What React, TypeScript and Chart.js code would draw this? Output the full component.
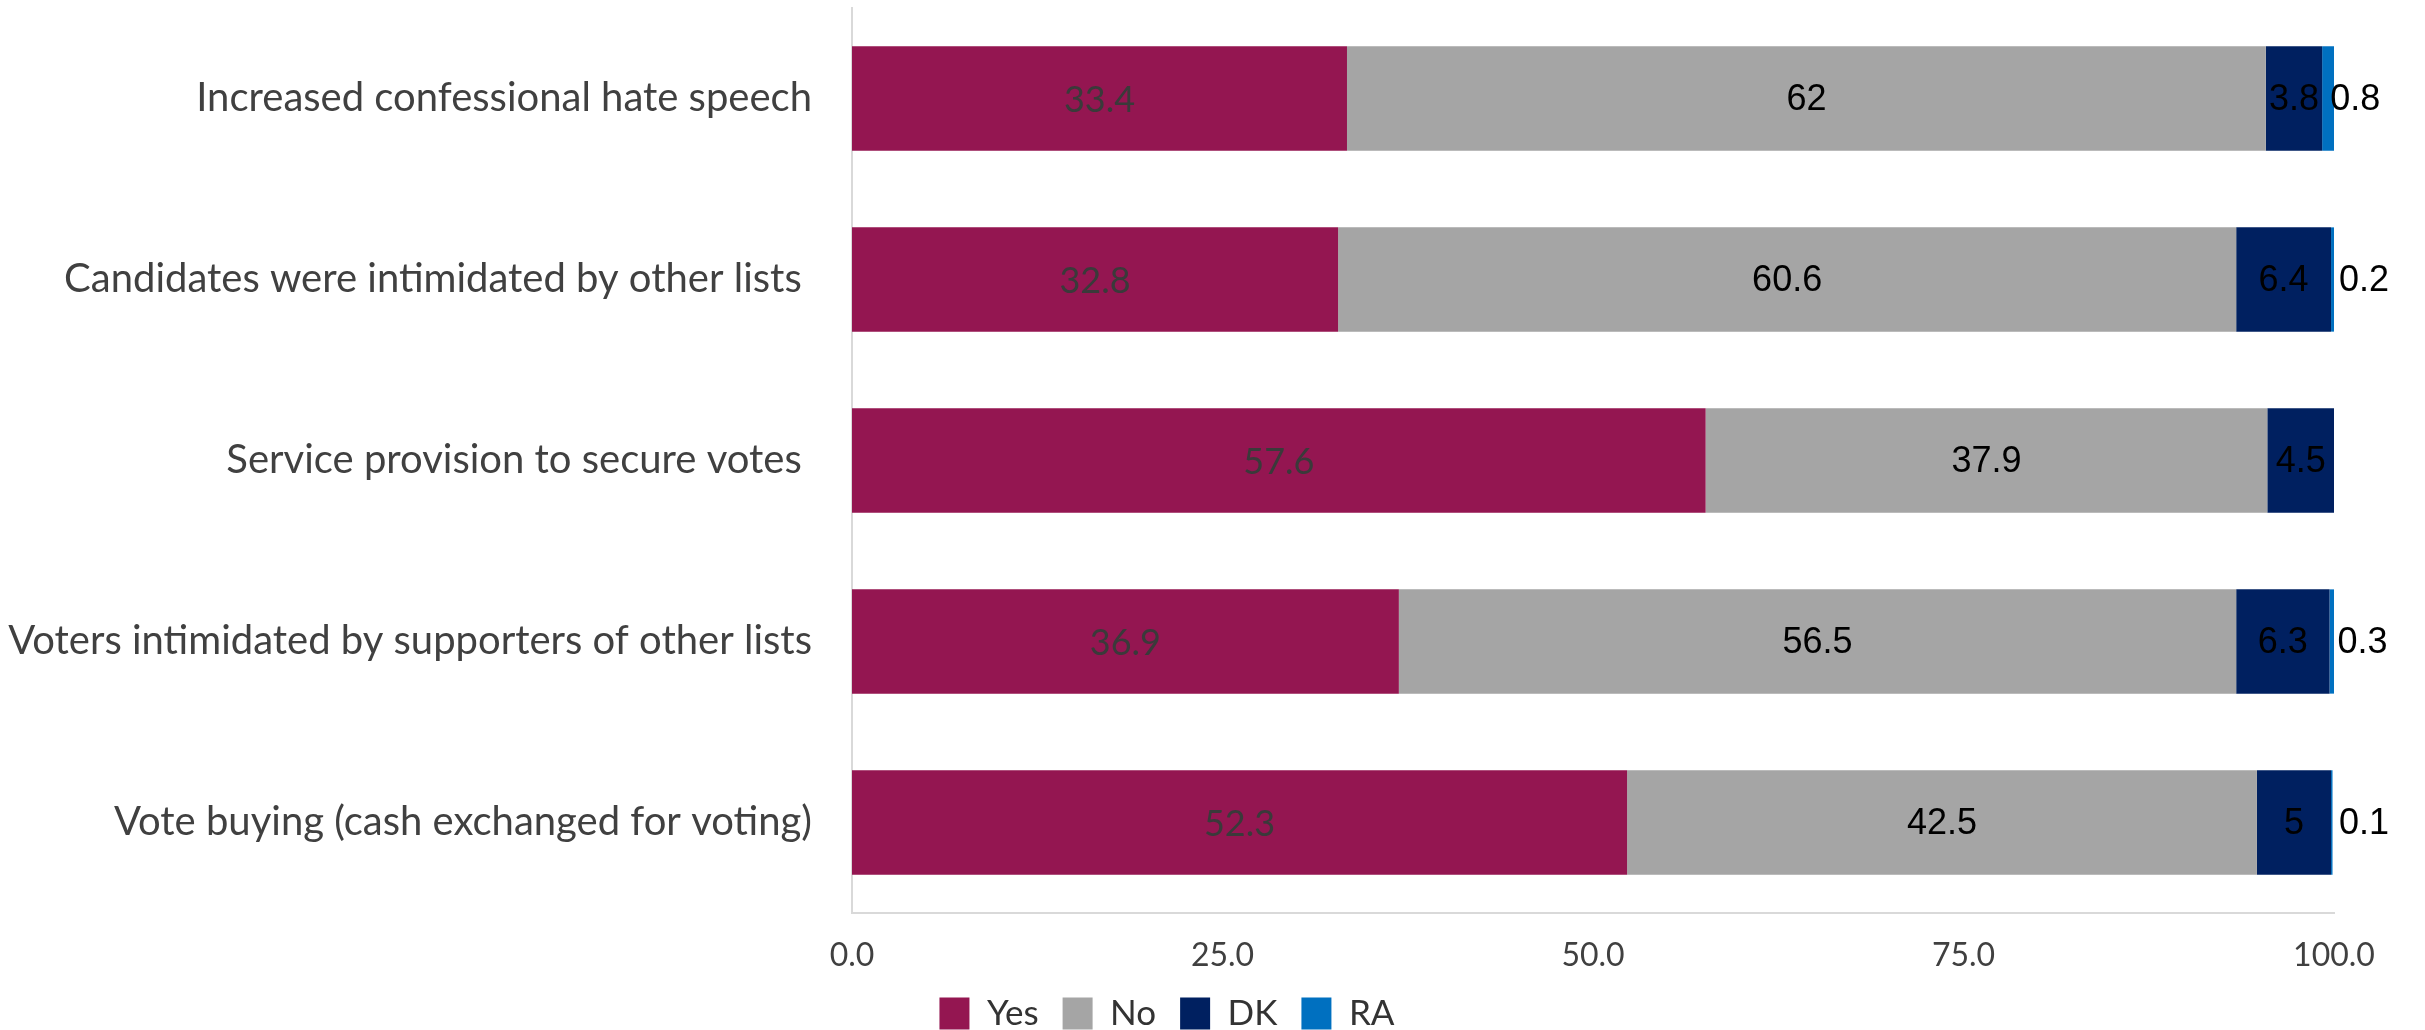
import React, { useEffect, useRef } from "react";
import { Chart, registerables } from "chart.js";

Chart.register(...registerables);

const categories = [
  "Increased confessional hate speech",
  "Candidates were intimidated by other lists ",
  "Service provision to secure votes ",
  "Voters intimidated by supporters of other lists",
  "Vote buying (cash exchanged for voting)",
];
const seriesNames = ["Yes", "No", "DK", "RA"];
const yesValues = [33.4, 32.8, 57.6, 36.9, 52.3];
const noValues = [62, 60.6, 37.9, 56.5, 42.5];
const dkValues = [3.8, 6.4, 4.5, 6.3, 5];
const raValues: (number | null)[] = [0.8, 0.2, null, 0.3, 0.1];
const xTickValues = [0, 25, 50, 75, 100];
const seriesColors = ["#941651", "#A5A5A5", "#002060", "#0070C0"];

const segLabels = {
  id: "segLabels",
  afterDatasetsDraw(chart: any) {
    const ctx = chart.ctx;
    chart.data.datasets.forEach((ds: any, di: number) => {
      const meta = chart.getDatasetMeta(di);
      if (meta.hidden) return;
      meta.data.forEach((el: any, i: number) => {
        const v = ds.data[i];
        if (v == null || v === 0) return;
        const { x, y, base } = el.getProps(["x", "y", "base"], true);
        ctx.save();
        ctx.textBaseline = "middle";
        const txt = String(v);
        const ty = y + 1.5;
        if (di === 0) {
          ctx.font = "36px Lato";
          ctx.fillStyle = "#3a3a3a";
          ctx.textAlign = "center";
          ctx.fillText(txt, (x + base) / 2, ty);
        } else if (di < 3) {
          ctx.font = '36px "Liberation Sans"';
          ctx.fillStyle = "#000000";
          ctx.textAlign = "center";
          ctx.fillText(txt, (x + base) / 2, ty);
        } else {
          ctx.font = '36px "Liberation Sans"';
          ctx.fillStyle = "#000000";
          ctx.textAlign = "left";
          ctx.fillText(txt, Math.min(x, base) + 8, ty);
        }
        ctx.restore();
      });
    });
  },
};

export default function App() {
  const ref = useRef<HTMLCanvasElement | null>(null);

  useEffect(() => {
    if (!ref.current) return;
    const values = [yesValues, noValues, dkValues, raValues];
    const chart = new Chart(ref.current, {
      type: "bar",
      data: {
        labels: categories,
        datasets: seriesNames.map((name, i) => ({
          label: name,
          data: values[i] as any,
          backgroundColor: seriesColors[i],
          borderWidth: 0,
          barPercentage: 0.576,
          categoryPercentage: 1,
        })),
      },
      options: {
        indexAxis: "y",
        responsive: true,
        maintainAspectRatio: false,
        animation: false,
        layout: { padding: { left: 0, right: 91, top: 8, bottom: 0 } },
        scales: {
          x: {
            stacked: true,
            min: 0,
            max: 100,
            afterBuildTicks: (s: any) => {
              s.ticks = xTickValues.map((v) => ({ value: v }));
            },
            ticks: {
              callback: (v: any) => Number(v).toFixed(1),
              font: { family: "Lato", size: 32 },
              color: "#404040",
              padding: 23,
              maxRotation: 0,
              autoSkip: false,
            },
            grid: { display: false, drawTicks: false },
            border: { display: true, color: "#D9D9D9", width: 2 },
            afterFit: (s: any) => {
              s.height = 59;
            },
          },
          y: {
            stacked: true,
            ticks: {
              font: { family: "Lato", size: 40 },
              color: "#404040",
              padding: 40,
              autoSkip: false,
            },
            grid: { display: false, drawTicks: false },
            border: { display: true, color: "#D9D9D9", width: 2 },
            afterFit: (s: any) => {
              s.width = 852;
              s.paddingTop = 0;
              s.paddingBottom = 0;
            },
          },
        },
        plugins: {
          legend: {
            position: "bottom",
            labels: {
              boxWidth: 30,
              boxHeight: 32,
              padding: 24,
              font: { family: "Lato", size: 35 },
              color: "#333333",
            },
          },
          tooltip: { enabled: false },
        },
      },
      plugins: [segLabels],
    });
    return () => chart.destroy();
  }, []);

  return (
    <div
      style={{
        position: "fixed",
        left: 0,
        top: 0,
        width: "2425px",
        height: "1041px",
        background: "#ffffff",
      }}
    >
      <canvas ref={ref} />
    </div>
  );
}
